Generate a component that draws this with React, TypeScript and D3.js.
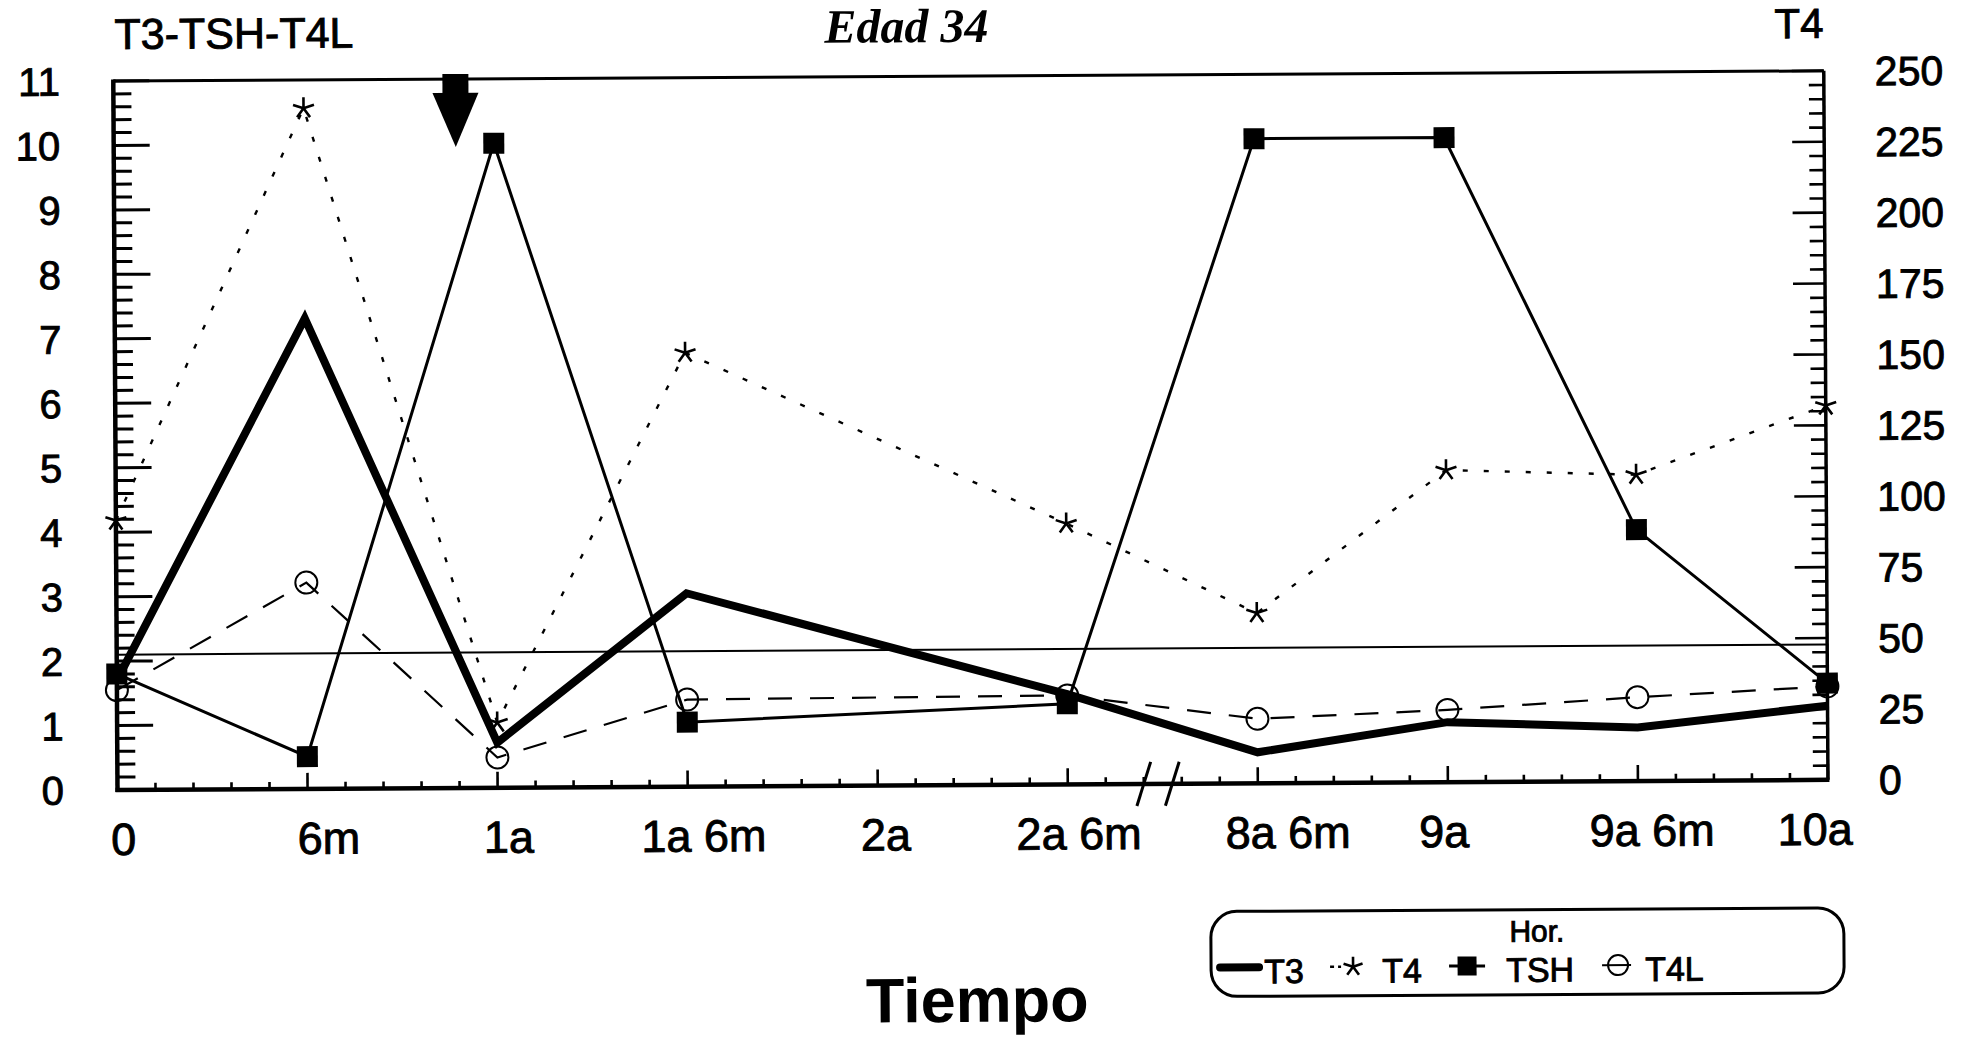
import React from "react";
import * as d3 from "d3";

// ---- data ----
const categories = ["0", "6m", "1a", "1a 6m", "2a", "2a 6m", "8a 6m", "9a", "9a 6m", "10a"];
const t3Values: (number | null)[] = [1.7, 7.3, 0.7, 3.0, null, 1.4, 0.48, 0.93, 0.83, 1.15];
const t4Values: (number | null)[] = [95, 240, 23, 153, null, 92, 60, 110, 108, 132];
const tshValues: (number | null)[] = [1.8, 0.5, 10.0, 1.0, null, 1.25, 10.0, 10.0, 3.9, 1.5];
const t4lValues: (number | null)[] = [1.55, 3.2, 0.47, 1.35, null, 1.38, 1.0, 1.12, 1.3, 1.45];
const leftTickValues = [0, 1, 2, 3, 4, 5, 6, 7, 8, 9, 10, 11];
const rightTickValues = [0, 25, 50, 75, 100, 125, 150, 175, 200, 225, 250];
const referenceLevel = 2.1;
const eventPosition = 1.8;
const axisBreakPositions = [5.4, 5.55];

// ---- layout ----
const labelNudge = [6, 21, 11, 16, 8, 11, 30, -4, 14, -13];
const W = 1973, H = 1037;
const L = 117.5, R = 1828, T = 81, B = 790;
const sans = "'Liberation Sans', Arial, Helvetica, sans-serif";
const serif = "'Liberation Serif', 'Times New Roman', serif";
const heavy = { stroke: "#000", strokeWidth: 0.9 };

function starPath(cx: number, cy: number, r: number) {
  const p = d3.path();
  for (let k = 0; k < 5; k++) {
    const a = (-90 + k * 72) * Math.PI / 180;
    p.moveTo(cx, cy);
    p.lineTo(cx + r * Math.cos(a), cy + r * Math.sin(a));
  }
  return p.toString();
}

export default function App() {
  const x = d3.scaleLinear().domain([0, 9]).range([L, R]);
  const yL = d3.scaleLinear().domain([0, 11]).range([B, T]);
  const yR = d3.scaleLinear().domain([0, 250]).range([B, T]);
  const pts = (vals: (number | null)[], y: (v: number) => number) =>
    vals
      .map((v, i) => (v == null ? null : ([x(i), y(v)] as [number, number])))
      .filter((p): p is [number, number] => p != null);
  const line = d3.line();

  const t3 = pts(t3Values, yL);
  const t4 = pts(t4Values, yR);
  const tsh = pts(tshValues, yL);
  const t4l = pts(t4lValues, yL);

  const leftMinor = d3.range(0, 56).map((k) => k / 5);
  const rightMinor = d3.range(0, 51).map((k) => k * 5);
  const bottomMinor = d3.range(0, 46).map((k) => k / 5);
  const ax = x(eventPosition);

  return (
    <svg width={W} height={H} style={{ position: "absolute", left: 0, top: 0, background: "#fff" }}>
      <rect width={W} height={H} fill="#fff" />
      <g transform={`rotate(-0.34 ${L} ${B})`}>
        {/* titles */}
        <text x={119} y={49} fontFamily={sans} fontSize={43} fill="#000" {...heavy}>T3-TSH-T4L</text>
        <text x={911} y={47} fontFamily={serif} fontSize={48} fontWeight="bold" fontStyle="italic" textAnchor="middle" fill="#000">Edad 34</text>
        <text x={1828} y={48} fontFamily={sans} fontSize={42} textAnchor="end" fill="#000" {...heavy}>T4</text>

        {/* reference line */}
        <line x1={L} x2={R} y1={yL(referenceLevel)} y2={yL(referenceLevel)} stroke="#000" strokeWidth={2} />

        {/* series lines */}
        <path d={line(t4l) || ""} fill="none" stroke="#000" strokeWidth={2.2} strokeDasharray="24 18" />
        <path d={line(t4) || ""} fill="none" stroke="#000" strokeWidth={2.4} strokeDasharray="5 16" />
        <path d={line(tsh) || ""} fill="none" stroke="#000" strokeWidth={3} />
        <path d={line(t3) || ""} fill="none" stroke="#000" strokeWidth={8} strokeLinejoin="miter" strokeMiterlimit={10} />

        {/* markers */}
        {t4l.map(([px, py], i) => (
          <circle key={"c" + i} cx={px} cy={py} r={11} fill="none" stroke="#000" strokeWidth={2} />
        ))}
        {t4.map(([px, py], i) => (
          <path key={"s" + i} d={starPath(px, py, 11)} stroke="#000" strokeWidth={2.6} fill="none" />
        ))}
        {tsh.map(([px, py], i) => (
          <rect key={"q" + i} x={px - 10.5} y={py - 10.5} width={21} height={21} fill="#000" />
        ))}

        {/* left axis ticks */}
        {leftMinor.map((v, i) => {
          const major = Math.abs(v - Math.round(v)) < 1e-6;
          return <line key={"lt" + i} x1={L} x2={L + (major ? 36 : 18)} y1={yL(v)} y2={yL(v)} stroke="#000" strokeWidth={3} />;
        })}
        {/* right axis ticks */}
        {rightMinor.map((v, i) => {
          const major = v % 25 === 0;
          return <line key={"rt" + i} x1={R} x2={R - (major ? 32 : 15)} y1={yR(v)} y2={yR(v)} stroke="#000" strokeWidth={2.6} />;
        })}
        {/* bottom axis ticks */}
        {bottomMinor.map((v, i) => {
          const major = Math.abs(v - Math.round(v)) < 1e-6;
          return <line key={"bt" + i} x1={x(v)} x2={x(v)} y1={B} y2={B - (major ? 16 : 7)} stroke="#000" strokeWidth={2.6} />;
        })}

        {/* frame */}
        <line x1={L} x2={R} y1={T} y2={T} stroke="#000" strokeWidth={3} />
        <line x1={R} x2={R} y1={T} y2={B} stroke="#000" strokeWidth={3.5} />
        <line x1={L} x2={L} y1={T - 1.5} y2={B + 2} stroke="#000" strokeWidth={4.5} />
        <line x1={L - 2} x2={R + 1.5} y1={B} y2={B} stroke="#000" strokeWidth={4.5} />

        {/* axis break */}
        {axisBreakPositions.map((p, i) => (
          <line key={"br" + i} x1={x(p) + 7} y1={B - 22} x2={x(p) - 7} y2={B + 22} stroke="#000" strokeWidth={3} />
        ))}

        {/* event arrow */}
        <rect x={ax - 13} y={76} width={26} height={20} fill="#000" />
        <path d={`M${ax - 23},95 L${ax + 23},95 L${ax},149 Z`} fill="#000" />

        {/* tick labels */}
        {leftTickValues.map((v) => (
          <text key={"ll" + v} x={64} y={yL(v)} dy="0.36em" fontFamily={sans} fontSize={40} textAnchor="end" fill="#000" {...heavy}>{v}</text>
        ))}
        {rightTickValues.map((v) => (
          <text key={"rl" + v} x={1879} y={yR(v)} dy="0.36em" fontFamily={sans} fontSize={41} textAnchor="start" fill="#000" {...heavy}>{v}</text>
        ))}
        {categories.map((c, i) => (
          <text key={"xl" + i} x={x(i) + labelNudge[i]} y={855} fontFamily={sans} fontSize={45} textAnchor="middle" fill="#000" {...heavy}>{c}</text>
        ))}

        {/* axis title */}
        <text x={976} y={1027} fontFamily={sans} fontSize={63} fontWeight="bold" textAnchor="middle" fill="#000">Tiempo</text>

        {/* legend */}
        <rect x={1210} y={918} width={633} height={85} rx={26} ry={26} fill="none" stroke="#000" strokeWidth={3} />
        <text x={1536} y={950} fontFamily={sans} fontSize={30} textAnchor="middle" fill="#000" {...heavy}>Hor.</text>
        <line x1={1219} x2={1258} y1={974} y2={974} stroke="#000" strokeWidth={8} strokeLinecap="round" />
        <text x={1263} y={990} fontFamily={sans} fontSize={34} fill="#000" {...heavy}>T3</text>
        <line x1={1329} x2={1340} y1={974} y2={974} stroke="#000" strokeWidth={2.4} strokeDasharray="4 4" />
        <path d={starPath(1352, 974, 10)} stroke="#000" strokeWidth={2.6} fill="none" />
        <text x={1381} y={990} fontFamily={sans} fontSize={34} fill="#000" {...heavy}>T4</text>
        <line x1={1448} x2={1484} y1={974} y2={974} stroke="#000" strokeWidth={3} />
        <rect x={1456.5} y={964.5} width={19} height={19} fill="#000" />
        <text x={1505} y={990} fontFamily={sans} fontSize={34} fill="#000" {...heavy}>TSH</text>
        <line x1={1601} x2={1630} y1={974} y2={974} stroke="#000" strokeWidth={2} />
        <circle cx={1617} cy={974} r={10} fill="none" stroke="#000" strokeWidth={2} />
        <text x={1644} y={990} fontFamily={sans} fontSize={34} fill="#000" {...heavy}>T4L</text>
      </g>
    </svg>
  );
}
